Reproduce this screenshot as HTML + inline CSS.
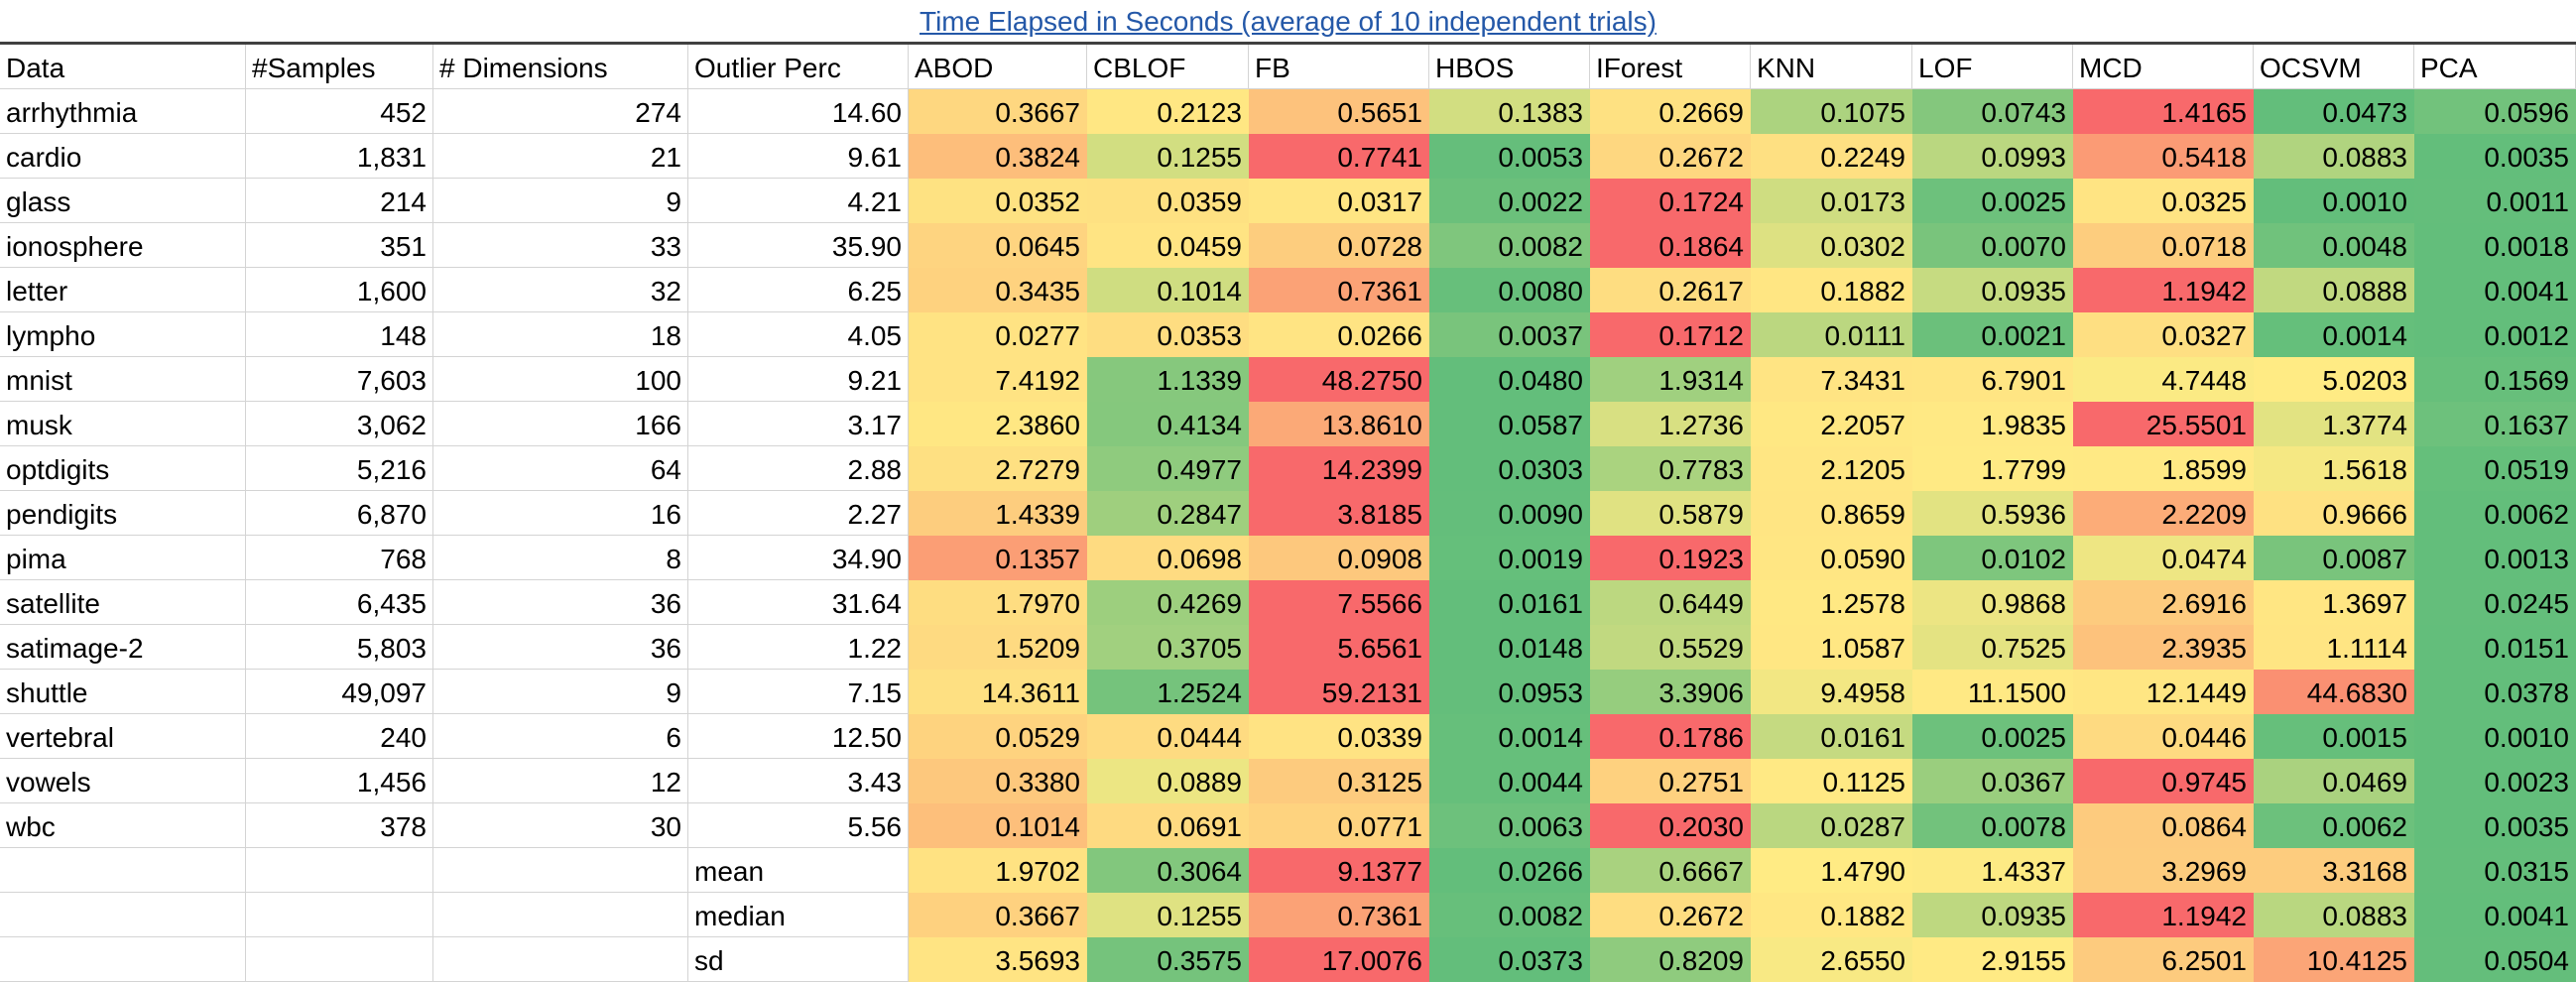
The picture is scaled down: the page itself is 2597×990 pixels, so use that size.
<!DOCTYPE html>
<html><head><meta charset="utf-8"><style>
html,body{margin:0;padding:0;background:#fff;}
#root{position:relative;width:2597px;height:990px;overflow:hidden;font-family:"Liberation Sans",sans-serif;font-size:28px;color:#000;}
.c{position:absolute;box-sizing:border-box;height:45px;line-height:47px;padding:0 6px;white-space:nowrap;overflow:hidden;border-right:1px solid #d4d4d4;border-bottom:1px solid #d4d4d4;}
.r{text-align:right;}
#title{position:absolute;left:0;width:2597px;top:4px;text-align:center;color:#2458a8;text-decoration:underline;font-size:28px;line-height:36px;}
#rule{position:absolute;left:0;top:42px;width:2597px;height:3px;background:#404040;}
</style></head><body>
<div id="root">
<div id="title">Time Elapsed in Seconds (average of 10 independent trials)</div>
<div id="rule"></div>
</div>
<script>
const colEdges=[0,248,437,694,916,1096,1259,1441,1603,1765,1928,2090,2272,2434,2597];
const headers=["Data","#Samples","# Dimensions","Outlier Perc","ABOD","CBLOF","FB","HBOS","IForest","KNN","LOF","MCD","OCSVM","PCA"];
const rowNames=["arrhythmia","cardio","glass","ionosphere","letter","lympho","mnist","musk","optdigits","pendigits","pima","satellite","satimage-2","shuttle","vertebral","vowels","wbc","","",""];
const samples=["452","1,831","214","351","1,600","148","7,603","3,062","5,216","6,870","768","6,435","5,803","49,097","240","1,456","378","","",""];
const dims=["274","21","9","33","32","18","100","166","64","16","8","36","36","9","6","12","30","","",""];
const outlier=["14.60","9.61","4.21","35.90","6.25","4.05","9.21","3.17","2.88","2.27","34.90","31.64","1.22","7.15","12.50","3.43","5.56","mean","median","sd"];
const times=[
[0.3667,0.2123,0.5651,0.1383,0.2669,0.1075,0.0743,1.4165,0.0473,0.0596],
[0.3824,0.1255,0.7741,0.0053,0.2672,0.2249,0.0993,0.5418,0.0883,0.0035],
[0.0352,0.0359,0.0317,0.0022,0.1724,0.0173,0.0025,0.0325,0.0010,0.0011],
[0.0645,0.0459,0.0728,0.0082,0.1864,0.0302,0.0070,0.0718,0.0048,0.0018],
[0.3435,0.1014,0.7361,0.0080,0.2617,0.1882,0.0935,1.1942,0.0888,0.0041],
[0.0277,0.0353,0.0266,0.0037,0.1712,0.0111,0.0021,0.0327,0.0014,0.0012],
[7.4192,1.1339,48.2750,0.0480,1.9314,7.3431,6.7901,4.7448,5.0203,0.1569],
[2.3860,0.4134,13.8610,0.0587,1.2736,2.2057,1.9835,25.5501,1.3774,0.1637],
[2.7279,0.4977,14.2399,0.0303,0.7783,2.1205,1.7799,1.8599,1.5618,0.0519],
[1.4339,0.2847,3.8185,0.0090,0.5879,0.8659,0.5936,2.2209,0.9666,0.0062],
[0.1357,0.0698,0.0908,0.0019,0.1923,0.0590,0.0102,0.0474,0.0087,0.0013],
[1.7970,0.4269,7.5566,0.0161,0.6449,1.2578,0.9868,2.6916,1.3697,0.0245],
[1.5209,0.3705,5.6561,0.0148,0.5529,1.0587,0.7525,2.3935,1.1114,0.0151],
[14.3611,1.2524,59.2131,0.0953,3.3906,9.4958,11.1500,12.1449,44.6830,0.0378],
[0.0529,0.0444,0.0339,0.0014,0.1786,0.0161,0.0025,0.0446,0.0015,0.0010],
[0.3380,0.0889,0.3125,0.0044,0.2751,0.1125,0.0367,0.9745,0.0469,0.0023],
[0.1014,0.0691,0.0771,0.0063,0.2030,0.0287,0.0078,0.0864,0.0062,0.0035],
[1.9702,0.3064,9.1377,0.0266,0.6667,1.4790,1.4337,3.2969,3.3168,0.0315],
[0.3667,0.1255,0.7361,0.0082,0.2672,0.1882,0.0935,1.1942,0.0883,0.0041],
[3.5693,0.3575,17.0076,0.0373,0.8209,2.6550,2.9155,6.2501,10.4125,0.0504]];
const G=[99,190,123],Y=[255,235,132],R=[248,105,107];
function mix(a,b,t){return 'rgb('+a.map((v,i)=>Math.round(v+(b[i]-v)*t)).join(',')+')';}
function colorFor(v,row){
  const s=[...row].sort((a,b)=>a-b);const mn=s[0],mx=s[s.length-1];const md=(s[4]+s[5])/2;
  if(v<=md){return mix(G,Y,md===mn?1:(v-mn)/(md-mn));}
  return mix(Y,R,mx===md?0:(v-md)/(mx-md));
}
const root=document.getElementById('root');
const top0=45,rh=45;
function cell(ci,ri,text,right,bg){
  const d=document.createElement('div');
  d.className='c'+(right?' r':'');
  d.style.left=colEdges[ci]+'px';
  d.style.width=(colEdges[ci+1]-colEdges[ci])+'px';
  d.style.top=(top0+ri*rh)+'px';
  if(bg){d.style.background=bg;d.style.borderColor=bg;}
  d.textContent=text;
  root.appendChild(d);
  return d;
}
headers.forEach((h,i)=>{
  const d=cell(i,0,h,false,null);
  
  
});
times.forEach((row,r)=>{
  const ri=r+1;
  let d=cell(0,ri,rowNames[r],false,null);
  
  
  d=cell(1,ri,samples[r],true,null);
  
  
  d=cell(2,ri,dims[r],true,null);
  
  
  const isStat=r>=17;
  d=cell(3,ri,outlier[r],!isStat,null);
  
  
  row.forEach((v,j)=>{
    const c=cell(4+j,ri,v.toFixed(4),true,colorFor(v,row));
    
    
  });
});
</script>
</body></html>
